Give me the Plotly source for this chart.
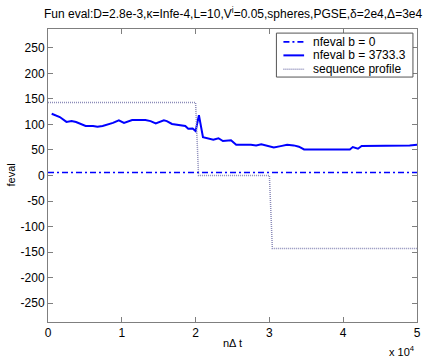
import plotly.graph_objects as go

# Sample positions (n*dt) and function-evaluation counts
t_b3733 = [500, 1600, 2500, 3200, 3800, 4500, 5100, 6100, 6700, 7400, 8100, 8800,
           9600, 10300, 11400, 13200, 13900, 14600, 15700, 16100, 16800, 17700,
           18600, 19000, 19600, 20000, 20450, 21000, 21700, 22400, 23100, 23700,
           24800, 25500, 27500, 28200, 28900, 29500, 30600, 31700, 32400, 33300,
           34000, 34700, 36000, 38200, 40900, 41300, 42000, 42500, 44500, 47200,
           49000, 50000]
feval_b3733 = [121, 114.5, 105, 106.6, 104.7, 101, 97, 97, 95.6, 97, 100, 103,
               108, 103, 108.6, 108.6, 106.6, 102, 108, 106.6, 101, 99,
               97, 91.6, 92, 87, 118, 75, 72, 70, 73, 67.5,
               69, 60, 60, 59, 61, 59, 55, 58, 60, 59,
               56.5, 51, 51, 51, 51, 55.7, 52.5, 57.7, 57.7, 58.4,
               59, 60]

t_b0 = [0, 50000]
feval_b0 = [6, 6]

t_profile = [0, 20000, 20400, 30000, 30400, 50000]
seq_profile = [143, 143, 0, 0, -143, -143]

x_tickvals = [0, 10000, 20000, 30000, 40000, 50000]
x_ticktext = ["0", "1", "2", "3", "4", "5"]
y_tickvals = [-250, -200, -150, -100, -50, 0, 50, 100, 150, 200, 250]
y_ticktext = ["-250", "-200", "-150", "-100", "-50", "0", "50", "100", "150", "200", "250"]

FONT = "Liberation Sans, Arial, sans-serif"
AXIS_GREY = "#7f7f7f"

series = [
    dict(name="nfeval b = 0", x=t_b0, y=feval_b0,
         line=dict(color="#0000ff", width=1.6, dash="6px,3px,2px,3px")),
    dict(name="nfeval b = 3733.3", x=t_b3733, y=feval_b3733,
         line=dict(color="#0000ff", width=2)),
    dict(name="sequence profile", x=t_profile, y=seq_profile,
         line=dict(color="#8a8ab8", width=1.5, dash="1px,1px")),
]

fig = go.Figure()
for s in series:
    fig.add_trace(go.Scatter(x=s["x"], y=s["y"], mode="lines", name=s["name"],
                             line=s["line"], showlegend=False))

# Compact boxed legend in the upper-right corner (paper coordinates)
shapes = [dict(type="rect", xref="paper", yref="paper", x0=0.619, x1=0.989,
               y0=0.836, y1=0.986, line=dict(color="#555555", width=1),
               fillcolor="white", layer="above")]
annotations = []
row_y = [0.956, 0.910, 0.863]
for s, ry in zip(series, row_y):
    ln = dict(color=s["line"]["color"], width=s["line"]["width"])
    if "dash" in s["line"]:
        ln["dash"] = s["line"]["dash"]
    shapes.append(dict(type="line", xref="paper", yref="paper", x0=0.638, x1=0.694,
                       y0=ry, y1=ry, line=ln, layer="above"))
    annotations.append(dict(text=s["name"], x=0.712, y=ry, xref="paper", yref="paper",
                            xanchor="left", yanchor="middle", showarrow=False,
                            font=dict(size=12)))

annotations += [
    dict(text="Fun eval:D=2.8e-3,\u03ba=Infe-4,L=10,V<sup>i</sup>=0.05,spheres,PGSE,\u03b4=2e4,\u0394=3e4",
         x=0.5, y=1, xref="paper", yref="paper", xanchor="center", yanchor="bottom",
         yshift=6, showarrow=False, font=dict(size=12)),
    dict(text="n\u0394 t", x=0.5, y=0, xref="paper", yref="paper",
         xanchor="center", yanchor="top", yshift=-13, showarrow=False,
         font=dict(size=11)),
    dict(text="x 10<sup>4</sup>", x=1, y=0, xref="paper", yref="paper",
         xanchor="right", yanchor="top", yshift=-20, showarrow=False,
         font=dict(size=11)),
    dict(text="feval", x=0, y=0.5, xref="paper", yref="paper", textangle=-90,
         xanchor="center", yanchor="middle", xshift=-38, showarrow=False,
         font=dict(size=11)),
]

fig.update_layout(
    width=427, height=360,
    margin=dict(l=48, r=6, t=29, b=38),
    paper_bgcolor="white", plot_bgcolor="white",
    font=dict(family=FONT, size=11, color="black"),
    showlegend=False,
    shapes=shapes,
    annotations=annotations,
)

fig.update_xaxes(
    range=[0, 50000], tickvals=x_tickvals, ticktext=x_ticktext,
    showgrid=False, zeroline=False, showline=True, linecolor=AXIS_GREY, linewidth=1,
    mirror="ticks", ticks="inside", ticklen=5, tickcolor=AXIS_GREY,
    tickfont=dict(size=12), fixedrange=True,
)
fig.update_yaxes(
    range=[-287, 287], tickvals=y_tickvals, ticktext=y_ticktext,
    showgrid=False, zeroline=False, showline=True, linecolor=AXIS_GREY, linewidth=1,
    mirror="ticks", ticks="inside", ticklen=5, tickcolor=AXIS_GREY,
    tickfont=dict(size=12), fixedrange=True,
)

fig.write_html("out.html")
